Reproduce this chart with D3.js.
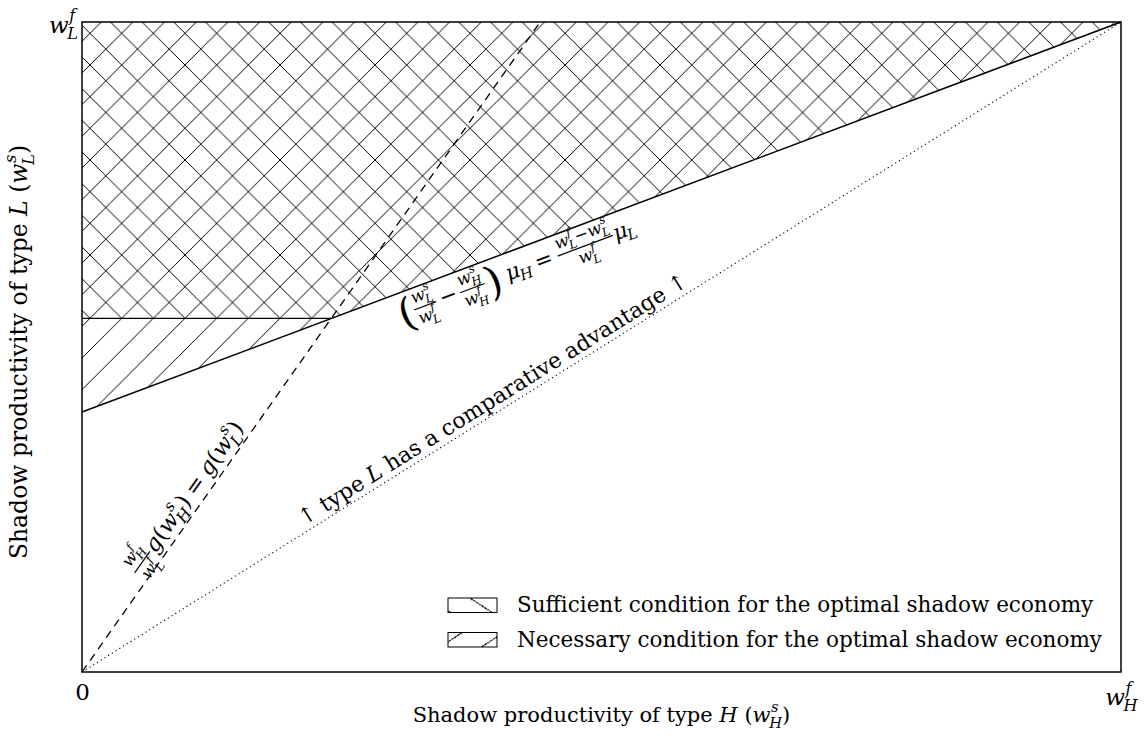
<!DOCTYPE html>
<html>
<head>
<meta charset="utf-8">
<script src="https://cdn.jsdelivr.net/npm/d3@7"></script>
<style>
  body { margin: 0; background: #fff; }
  text { font-family: "DejaVu Serif", serif; fill: #000; white-space: pre; text-anchor: start; }
</style>
</head>
<body>
<script>
// productivities are measured relative to the formal wages (0 .. w^f)
var xTicks = [0, 1];
var xTickLabels = [[{ r: "0" }], [{ w: "w", sup: "f", sub: "H" }]];
var yTicks = [1];
var yTickLabels = [[{ w: "w", sup: "f", sub: "L" }]];

// boundary lines, as [x, y] end points in data units
var muLine = [[0, 0.40], [1, 1]];     // (wLs/wLf - wHs/wHf) muH = (wLf - wLs)/wLf muL
var gLine = [[0, 0], [0.441, 1]];     // wHf/wLf g(wHs) = g(wLs)
var diagLine = [[0, 0], [1, 1]];      // equal relative productivity

var legendLabels = [
  "Sufficient condition for the optimal shadow economy",
  "Necessary condition for the optimal shadow economy"
];

var svgWidth = 1146;
var svgHeight = 744;
var margin = { top: 22, right: 25, bottom: 72, left: 82 };
var width = svgWidth - margin.left - margin.right;
var height = svgHeight - margin.top - margin.bottom;

var svg = d3.select("body").append("svg")
    .attr("width", svgWidth)
    .attr("height", svgHeight);

var chartGroup = svg.append("g")
    .attr("transform", `translate(${margin.left}, ${margin.top})`);

var x = d3.scaleLinear().domain([0, 1]).range([0, width]);
var y = d3.scaleLinear().domain([0, 1]).range([height, 0]);

// --- small math typesetting helper (italic symbols, sub/superscripts, fractions)
function put(g, str, px, py, size, italic) {
  var t = g.append("text")
      .attr("x", px).attr("y", py)
      .attr("font-size", size)
      .attr("font-style", italic ? "italic" : "normal")
      .text(str);
  return t.node().getComputedTextLength();
}

// symbol with stacked scripts, kept in one text element
function putScripted(g, p, px, size) {
  var t = g.append("text").attr("x", px).attr("y", 0).attr("font-size", size);
  t.append("tspan").attr("font-style", "italic").text(p.w);
  var bw = t.node().getComputedTextLength();
  var ss = size * 0.7, sw = 0;
  if (p.sup) {
    var a = t.append("tspan")
        .attr("x", px + bw + 0.02 * size).attr("y", -0.48 * size)
        .attr("font-size", ss).attr("font-style", "italic").text(p.sup);
    sw = Math.max(sw, a.node().getComputedTextLength() + 0.02 * size);
  }
  if (p.sub) {
    var b = t.append("tspan")
        .attr("x", px + bw - 0.06 * size).attr("y", (p.sup ? 0.28 : 0.22) * size)
        .attr("font-size", ss).attr("font-style", "italic").text(p.sub);
    sw = Math.max(sw, b.node().getComputedTextLength() - 0.06 * size);
  }
  return bw + sw;
}

function layout(g, parts, size, fk) {
  fk = fk || 0.7;
  var cx = 0;
  parts.forEach(function (p) {
    if (p.sp) { cx += p.sp * size; return; }
    if (p.r !== undefined) { cx += put(g, p.r, cx, 0, size, false); return; }
    if (p.big !== undefined) {
      cx += put(g, p.big, cx, 0.4 * size, size * 1.9, false);
      return;
    }
    if (p.w !== undefined) {
      if (!p.sup && !p.sub) { cx += put(g, p.w, cx, 0, size, true); return; }
      cx += putScripted(g, p, cx, size);
      return;
    }
    if (p.frac) {
      var fs = size * fk;
      var ng = g.append("g"), dg = g.append("g");
      var nw = layout(ng, p.frac[0], fs);
      var dw = layout(dg, p.frac[1], fs);
      var bw = Math.max(nw, dw) + 0.12 * size;
      var axis = -0.27 * size;
      ng.attr("transform", `translate(${cx + (bw - nw) / 2},${axis - 0.3 * size})`);
      dg.attr("transform", `translate(${cx + (bw - dw) / 2},${axis + 0.72 * size})`);
      g.append("line")
          .attr("x1", cx).attr("x2", cx + bw)
          .attr("y1", axis).attr("y2", axis)
          .attr("stroke", "#000").attr("stroke-width", 1.2);
      cx += bw + 0.05 * size;
    }
  });
  return cx;
}

// --- hatch patterns
var defs = svg.append("defs");

function hatch(id, w, h, dir, ox, oy) {
  var d = dir === "back"
      ? `M0,0 L${w},${h} M${-w},0 L0,${h} M${w},0 L${2 * w},${h}`
      : `M0,${h} L${w},0 M${-w},${h} L0,0 M${w},${h} L${2 * w},0`;
  defs.append("pattern")
      .attr("id", id)
      .attr("patternUnits", "userSpaceOnUse")
      .attr("x", ox).attr("y", oy)
      .attr("width", w).attr("height", h)
    .append("path")
      .attr("d", d)
      .attr("stroke", "#000")
      .attr("stroke-width", 1)
      .attr("shape-rendering", "crispEdges")
      .attr("fill", "none");
}

var hs = 31.67;
hatch("suff", hs, hs, "back", 419.7, 11.3);
hatch("nec", hs, hs, "fwd", 419.7, 11.3);
hatch("suffLeg", 41.4, 27, "back", 367.3, 576.3);
hatch("necLeg", 41.4, 27, "fwd", 381.3, 597.7);

// where the g-line meets the mu-line
var muSlope = (muLine[1][1] - muLine[0][1]) / (muLine[1][0] - muLine[0][0]);
var gSlope = (gLine[1][1] - gLine[0][1]) / (gLine[1][0] - gLine[0][0]);
var xi = muLine[0][1] / (gSlope - muSlope);
var yi = gSlope * xi;

var necessaryArea = [muLine[0], muLine[1], [0, 1]];
var sufficientArea = [[0, yi], [xi, yi], muLine[1], [0, 1]];

var area = d3.line().x(d => x(d[0])).y(d => y(d[1]));

chartGroup.append("path")
    .attr("d", area(necessaryArea) + "Z")
    .attr("fill", "url(#nec)");

chartGroup.append("path")
    .attr("d", area(sufficientArea) + "Z")
    .attr("fill", "url(#suff)");

// edge of the sufficient region
chartGroup.append("path")
    .attr("d", area([[0, yi], [xi, yi]]))
    .attr("stroke", "#000").attr("stroke-width", 1.3).attr("fill", "none");

chartGroup.append("path")
    .attr("d", area(muLine))
    .attr("stroke", "#000").attr("stroke-width", 1.5).attr("fill", "none");

chartGroup.append("path")
    .attr("d", area(gLine))
    .attr("stroke", "#000").attr("stroke-width", 1.3)
    .attr("stroke-dasharray", "8,6").attr("fill", "none");

chartGroup.append("path")
    .attr("d", area(diagLine))
    .attr("stroke", "#000").attr("stroke-width", 1.1)
    .attr("stroke-dasharray", "1.2,3.2").attr("fill", "none");

// frame
chartGroup.append("rect")
    .attr("width", width).attr("height", height)
    .attr("fill", "none").attr("stroke", "#000").attr("stroke-width", 1.5);

// --- axes (labels only, no tick marks)
var bottomAxis = d3.axisBottom(x).tickValues(xTicks).tickSize(0).tickFormat("");
var leftAxis = d3.axisLeft(y).tickValues(yTicks).tickSize(0).tickFormat("");

var xAxisG = chartGroup.append("g")
    .attr("transform", `translate(0, ${height})`)
    .call(bottomAxis);
var yAxisG = chartGroup.append("g").call(leftAxis);
xAxisG.select(".domain").remove();
yAxisG.select(".domain").remove();
xAxisG.selectAll(".tick text").remove();
yAxisG.selectAll(".tick text").remove();

xAxisG.selectAll(".tick").each(function (d, i) {
  var tg = d3.select(this).append("g");
  var w = layout(tg, xTickLabels[i], 23);
  var bb = tg.node().getBBox();
  tg.attr("transform", `translate(${-w / 2},${6.6 - bb.y})`);
});

yAxisG.selectAll(".tick").each(function (d, i) {
  var tg = d3.select(this).append("g");
  var w = layout(tg, yTickLabels[i], 23);
  tg.attr("transform", `translate(${-w - 4},10)`);
});

// --- axis titles
var xTitle = chartGroup.append("g");
var xtw = layout(xTitle, [{ r: "Shadow productivity of type " }, { w: "H" }, { r: " (" },
  { w: "w", sup: "s", sub: "H" }, { r: ")" }], 21);
xTitle.attr("transform", `translate(${width / 2 - xtw / 2}, ${height + 50})`);

var yTitle = svg.append("g");
var yTitleInner = yTitle.append("g");
var ytw = layout(yTitleInner, [{ r: "Shadow productivity of type " }, { w: "L" }, { r: " (" },
  { w: "w", sup: "s", sub: "L" }, { r: ")" }], 23.5);
yTitleInner.attr("transform", `translate(${-ytw / 2}, 0)`);
yTitle.attr("transform", `translate(27, ${margin.top + height / 2 + 5}) rotate(-90)`);

// --- labels written along the lines
function alongLine(line, t, offset, parts, size, fk, anchor) {
  var p0 = [x(line[0][0]), y(line[0][1])], p1 = [x(line[1][0]), y(line[1][1])];
  var ang = Math.atan2(p1[1] - p0[1], p1[0] - p0[0]) * 180 / Math.PI;
  var px = p0[0] + t * (p1[0] - p0[0]), py = p0[1] + t * (p1[1] - p0[1]);
  var g = chartGroup.append("g").attr("transform", `translate(${px},${py}) rotate(${ang})`);
  var inner = g.append("g");
  var w = layout(inner, parts, size, fk);
  inner.attr("transform", `translate(${anchor === "middle" ? -w / 2 : 0},${offset})`);
}

alongLine(muLine, 0.298, 27, [
  { big: "(" },
  { frac: [[{ w: "w", sup: "s", sub: "L" }], [{ w: "w", sup: "f", sub: "L" }]] },
  { sp: 0.15 }, { r: "−" }, { sp: 0.15 },
  { frac: [[{ w: "w", sup: "s", sub: "H" }], [{ w: "w", sup: "f", sub: "H" }]] },
  { big: ")" }, { sp: 0.3 },
  { w: "μ", sub: "H" }, { sp: 0.25 }, { r: "=" }, { sp: 0.25 },
  { frac: [[{ w: "w", sup: "f", sub: "L" }, { r: "−" }, { w: "w", sup: "s", sub: "L" }],
           [{ w: "w", sup: "f", sub: "L" }]] },
  { w: "μ", sub: "L" }
], 21.5, 0.78, "start");

alongLine(gLine, 0.14, -8, [
  { frac: [[{ w: "w", sup: "f", sub: "H" }], [{ w: "w", sup: "f", sub: "L" }]] },
  { w: "g" }, { r: "(" }, { w: "w", sup: "s", sub: "H" }, { r: ")" },
  { sp: 0.25 }, { r: "=" }, { sp: 0.25 },
  { w: "g" }, { r: "(" }, { w: "w", sup: "s", sub: "L" }, { r: ")" }
], 22.5, 0.75, "start");

alongLine(diagLine, 0.402, -6, [
  { r: "↑ type " }, { w: "L" }, { r: " has a comparative advantage ↑" }
], 22, 0.7, "middle");

// --- legend
var legendX = 366, legendY = 576, legendGap = 34.5;
var legend = chartGroup.selectAll(".legend")
    .data(legendLabels)
    .enter()
    .append("g")
    .attr("class", "legend")
    .attr("transform", (d, i) => `translate(${legendX}, ${legendY + i * legendGap})`);

legend.append("rect")
    .attr("width", 49).attr("height", 14.5)
    .attr("fill", (d, i) => i === 0 ? "url(#suffLeg)" : "url(#necLeg)")
    .attr("stroke", "#000").attr("stroke-width", 1);

legend.append("text")
    .attr("x", 69).attr("y", 14)
    .attr("font-size", 21.5)
    .text(d => d);
</script>
</body>
</html>
